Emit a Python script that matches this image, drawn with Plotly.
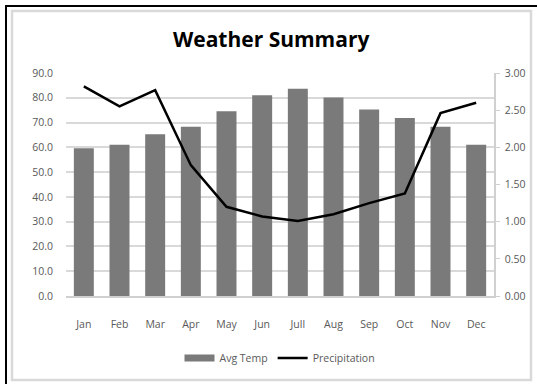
import plotly.graph_objects as go

months = ["Jan", "Feb", "Mar", "Apr", "May", "Jun", "Jull", "Aug", "Sep", "Oct", "Nov", "Dec"]
avg_temp = [59.6, 61.0, 65.3, 68.3, 74.6, 81.0, 83.6, 80.1, 75.3, 71.8, 68.3, 61.0]
precipitation = [2.82, 2.55, 2.77, 1.76, 1.20, 1.07, 1.01, 1.10, 1.25, 1.38, 2.46, 2.60]
left_ticks = [0, 10, 20, 30, 40, 50, 60, 70, 80, 90]
right_ticks = [0, 0.5, 1.0, 1.5, 2.0, 2.5, 3.0]

W, H = 537, 384
L, R, T, B = 66, 494, 73, 296
BAR_COLOR = "#7a7a7a"
FONT = "Open Sans, sans-serif"

def px(x):
    return (x - L) / (R - L)

def py(y):
    return (B - y) / (B - T)

fig = go.Figure()
fig.add_trace(go.Bar(x=months, y=avg_temp, name="Avg Temp", marker=dict(color=BAR_COLOR, line=dict(width=0)),
                     yaxis="y", showlegend=False))
# legend-only entry so the swatch is a wide rectangle like the original
fig.add_trace(go.Scatter(x=[None], y=[None], name="Avg Temp", mode="lines",
                         line=dict(color=BAR_COLOR, width=7), yaxis="y"))
fig.add_trace(go.Scatter(x=months, y=precipitation, name="Precipitation", mode="lines",
                         line=dict(color="#000000", width=2.5), yaxis="y2"))

tick_font = dict(family=FONT, size=10.5, color="#595959")

fig.update_layout(
    width=W, height=H,
    margin=dict(l=L, r=W - R, t=T, b=H - B, pad=0),
    paper_bgcolor="white", plot_bgcolor="white",
    bargap=0.44,
    showlegend=True,
    title=dict(text="<b>Weather Summary</b>", x=0.505, xanchor="center", y=1 - 40 / H, yanchor="middle",
               font=dict(family=FONT, size=21, color="#000000")),
    xaxis=dict(showgrid=False, showline=True, linecolor="#d0d0d0", linewidth=1.5, ticks="",
               tickfont=tick_font, ticklabelstandoff=18),
    yaxis=dict(range=[0, 90], tickvals=left_ticks, tickformat=".1f", showgrid=True, gridcolor="#d9d9d9",
               gridwidth=1.5, zeroline=False, showline=False, ticks="", tickfont=tick_font, ticklabelstandoff=12),
    yaxis2=dict(range=[0, 3], tickvals=right_ticks, tickformat=".2f", overlaying="y", side="right",
                showgrid=False, zeroline=False, showline=True, linecolor="#d0d0d0", linewidth=1.5,
                ticks="outside", ticklen=4, tickcolor="#d0d0d0", tickfont=tick_font, ticklabelstandoff=3),
    legend=dict(orientation="h", x=0.5, xanchor="center", y=py(358), yanchor="middle",
                font=dict(family=FONT, size=10.5, color="#595959"), traceorder="normal",
                itemwidth=30),
    shapes=[
        dict(type="rect", xref="paper", yref="paper", x0=px(12), x1=px(531), y0=py(11), y1=py(380),
             line=dict(color="#d9d9d9", width=2.5), layer="below"),
        dict(type="rect", xref="paper", yref="paper", x0=px(6), x1=px(545), y0=py(6), y1=py(390),
             line=dict(color="#000000", width=2), layer="below"),
    ],
)

fig.write_html("out.html", config={"displayModeBar": False},
               post_script="document.body.style.margin='0';document.body.style.overflow='hidden';")
